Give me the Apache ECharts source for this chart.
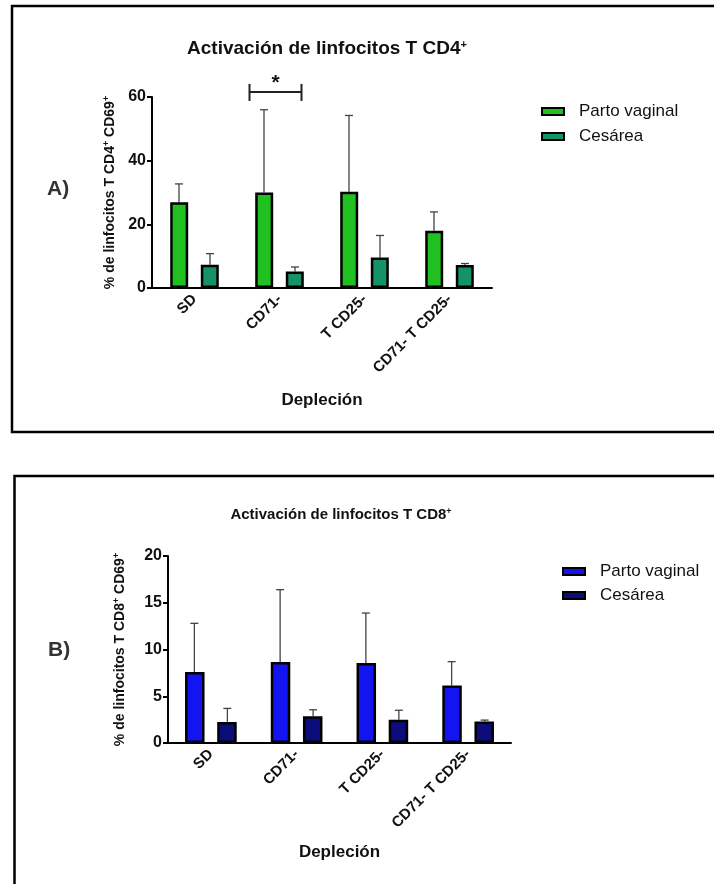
<!DOCTYPE html>
<html><head><meta charset="utf-8">
<script src="https://cdn.jsdelivr.net/npm/echarts@6/dist/echarts.min.js"></script>
<style>
html,body{margin:0;padding:0;background:#fff;}
#a{position:absolute;left:0;top:0;width:714px;height:440px;}
#b{position:absolute;left:0;top:440px;width:714px;height:444px;}
</style></head><body>
<div id="a"></div><div id="b"></div>
<script>
const categories = ['SD', 'CD71-', 'T CD25-', 'CD71- T CD25-'];
const seriesNames = ['Parto vaginal', 'Cesárea'];
// Panel A: CD4
const cd4Vaginal = [26.9, 30.0, 30.2, 18.0];
const cd4VaginalErr = [32.7, 56.0, 54.2, 23.9];
const cd4Cesarea = [7.3, 5.2, 9.6, 7.2];
const cd4CesareaErr = [10.8, 6.6, 16.5, 7.7];
const cd4Ticks = [0, 20, 40, 60];
// Panel B: CD8
const cd8Vaginal = [7.6, 8.65, 8.55, 6.15];
const cd8VaginalErr = [12.8, 16.4, 13.9, 8.7];
const cd8Cesarea = [2.25, 2.85, 2.5, 2.3];
const cd8CesareaErr = [3.7, 3.55, 3.5, 2.45];
const cd8Ticks = [0, 5, 10, 15, 20];
// significance bracket (category index, y value)
const sigBracket = [[1, 61.6]];

const FONT = 'Liberation Sans, Arial, sans-serif';

function errSeries(means, uppers, offset, xi, yi) {
  return {
    type: 'custom', xAxisIndex: xi, yAxisIndex: yi, silent: true, z: 1,
    data: means.map((m, i) => [i, m, uppers[i]]),
    renderItem: function (params, api) {
      const p0 = api.coord([api.value(0), api.value(1)]);
      const p1 = api.coord([api.value(0), api.value(2)]);
      const x = p0[0] + offset;
      return {
        type: 'group', children: [
          {type: 'line', shape: {x1: x, y1: p0[1], x2: x, y2: p1[1]}, style: {stroke: '#444', lineWidth: 1.3}},
          {type: 'line', shape: {x1: x - 4, y1: p1[1], x2: x + 4, y2: p1[1]}, style: {stroke: '#444', lineWidth: 1.3}}
        ]
      };
    }
  };
}

function buildOption(cfg) {
  const sup = {fontSize: cfg.supSize, fontWeight: 'bold', fontFamily: FONT, verticalAlign: 'top', lineHeight: cfg.supSize, padding: [0, 0, 0, 0]};
  const series = [
    {name: seriesNames[0], type: 'bar', data: cfg.v, barWidth: cfg.barW, barGap: cfg.barGap,
     itemStyle: {color: cfg.c1, borderColor: '#000', borderWidth: 2.5}, z: 2},
    {name: seriesNames[1], type: 'bar', data: cfg.c, barWidth: cfg.barW, barGap: cfg.barGap,
     itemStyle: {color: cfg.c2, borderColor: '#000', borderWidth: 2.5}, z: 2},
    errSeries(cfg.v, cfg.vErr, -cfg.off, 0, 0),
    errSeries(cfg.c, cfg.cErr, cfg.off, 0, 0)
  ];
  if (cfg.bracket) {
    series.push({
      type: 'custom', silent: true, z: 3, data: cfg.bracket,
      renderItem: function (params, api) {
        const p = api.coord([api.value(0), api.value(1)]);
        const l = p[0] - 30, r = p[0] + 22, y = p[1];
        return {type: 'group', children: [
          {type: 'line', shape: {x1: l, y1: y, x2: r, y2: y}, style: {stroke: '#222', lineWidth: 2}},
          {type: 'line', shape: {x1: l, y1: y - 8, x2: l, y2: y + 9}, style: {stroke: '#222', lineWidth: 2}},
          {type: 'line', shape: {x1: r, y1: y - 8, x2: r, y2: y + 9}, style: {stroke: '#222', lineWidth: 2}},
          {type: 'text', style: {text: '*', x: (l + r) / 2, y: y + 2, fill: '#111', font: 'bold 21px ' + FONT, textAlign: 'center', textVerticalAlign: 'bottom'}}
        ]};
      }
    });
  }
  return {
    animation: false,
    backgroundColor: '#fff',
    textStyle: {fontFamily: FONT},
    title: {
      text: cfg.title, left: cfg.titleX, top: cfg.titleY, textAlign: 'center',
      textStyle: {fontSize: cfg.titleSize, fontWeight: 'bold', color: '#111', fontFamily: FONT,
        rich: {b: {fontSize: cfg.titleSize, fontWeight: 'bold', fontFamily: FONT, color: '#111'},
               s: {fontSize: Math.round(cfg.titleSize * 0.6), fontWeight: 'bold', fontFamily: FONT, color: '#111', verticalAlign: 'top', lineHeight: 8}}}
    },
    legend: {
      orient: 'vertical', left: cfg.legX, top: cfg.legY, itemWidth: 22, itemHeight: 7, itemGap: cfg.legGap,
      icon: 'rect', data: seriesNames,
      itemStyle: {borderColor: '#000', borderWidth: 2},
      textStyle: {fontSize: 17, color: '#111', fontFamily: FONT, padding: [0, 0, 0, 10]}
    },
    grid: {left: cfg.gl, right: cfg.gr, top: cfg.gt, bottom: cfg.gb, containLabel: false},
    xAxis: {
      type: 'category', data: categories, boundaryGap: true,
      axisLine: {lineStyle: {color: '#000', width: 2}},
      axisTick: {alignWithLabel: true, length: 6, lineStyle: {color: '#000', width: 2}},
      axisLabel: {rotate: 45, fontSize: 15, fontWeight: 'bold', color: '#111', margin: 9, fontFamily: FONT, interval: 0},
      name: 'Depleción', nameLocation: 'middle', nameGap: cfg.xNameGap,
      nameTextStyle: {fontSize: 17, fontWeight: 'bold', color: '#111', fontFamily: FONT}
    },
    yAxis: {
      type: 'value', min: cfg.ticks[0], max: cfg.ticks[cfg.ticks.length - 1], interval: cfg.ticks[1] - cfg.ticks[0],
      splitLine: {show: false},
      axisLine: {show: true, lineStyle: {color: '#000', width: 2}},
      axisTick: {show: true, length: 5, lineStyle: {color: '#000', width: 2}},
      axisLabel: {fontSize: 16, fontWeight: 'bold', color: '#111', margin: 6, fontFamily: FONT},
      name: cfg.yName, nameLocation: 'middle', nameGap: cfg.yNameGap,
      nameTextStyle: {fontSize: 14, fontWeight: 'bold', color: '#111', fontFamily: FONT, lineHeight: 17,
        rich: {n: {fontSize: 14, fontWeight: 'bold', fontFamily: FONT, color: '#111', lineHeight: 17}, s: sup}}
    },
    graphic: [
      {type: 'rect', shape: {x: cfg.boxX, y: cfg.boxY, width: 800, height: cfg.boxH}, style: {fill: 'none', stroke: '#000', lineWidth: 2.5}, z: 0, silent: true},
      {type: 'text', left: cfg.panelX, top: cfg.panelY, style: {text: cfg.panel, font: 'bold 21px ' + FONT, fill: '#333'}}
    ],
    series: series
  };
}

const chartA = echarts.init(document.getElementById('a'), null, {renderer: 'canvas'});
chartA.setOption(buildOption({
  title: '{b|Activación de linfocitos T CD4}{s|+}', titleX: 322, titleY: 34, titleSize: 19,
  legX: 536, legY: 98, legGap: 8,
  gl: 152, gr: 222, gt: 97, gb: 152,
  ticks: cd4Ticks, v: cd4Vaginal, vErr: cd4VaginalErr, c: cd4Cesarea, cErr: cd4CesareaErr,
  c1: '#1fc01f', c2: '#14936a', barW: 18, barGap: '70%', off: 15.5,
  yName: '{n|% de linfocitos T CD4}{s|+}{n| CD69}{s|+}', yNameGap: 33, supSize: 9,
  xNameGap: 104, bracket: sigBracket,
  boxX: 12, boxY: 6, boxH: 426, panel: 'A)', panelX: 47, panelY: 179
}));

const chartB = echarts.init(document.getElementById('b'), null, {renderer: 'canvas'});
chartB.setOption(buildOption({
  title: '{b|Activación de linfocitos T CD8}{s|+}', titleX: 336, titleY: 62, titleSize: 15,
  legX: 557, legY: 118, legGap: 7,
  gl: 168, gr: 203, gt: 116, gb: 141,
  ticks: cd8Ticks, v: cd8Vaginal, vErr: cd8VaginalErr, c: cd8Cesarea, cErr: cd8CesareaErr,
  c1: '#1414f0', c2: '#0c0c7c', barW: 19.5, barGap: '65%', off: 16.5,
  yName: '{n|% de linfocitos T CD8}{s|+}{n| CD69}{s|+}', yNameGap: 39, supSize: 9,
  xNameGap: 101, bracket: null,
  boxX: 14.5, boxY: 36, boxH: 600, panel: 'B)', panelX: 48, panelY: 200
}));
</script>
</body></html>
